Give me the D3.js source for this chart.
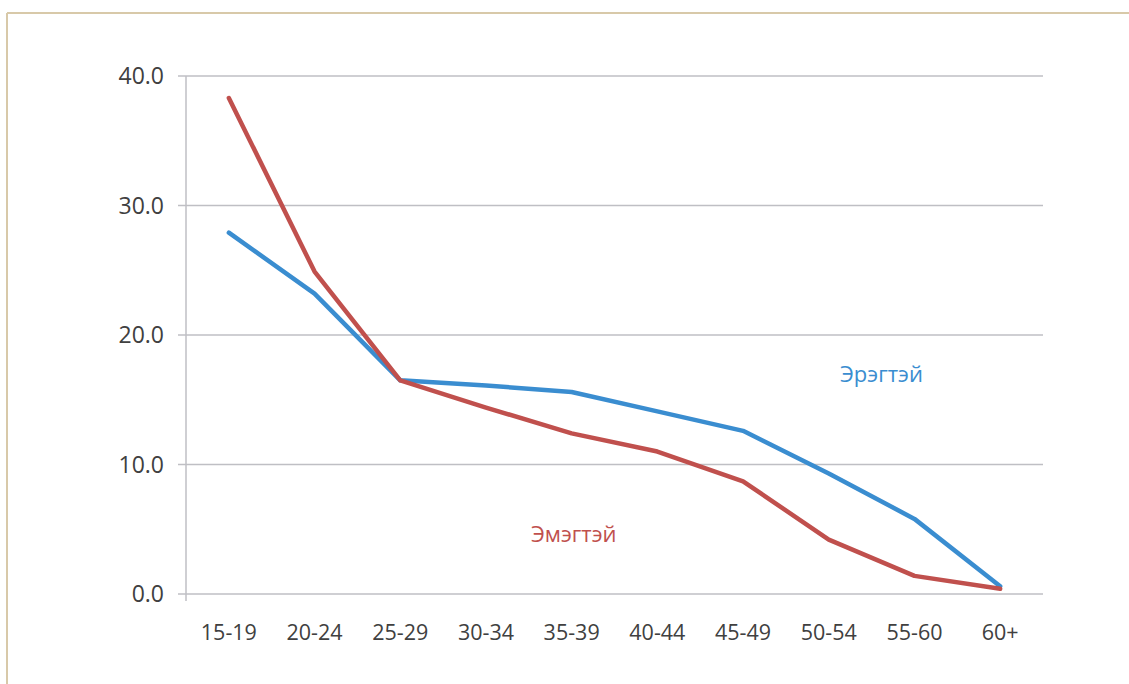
<!DOCTYPE html>
<html><head><meta charset="utf-8">
<script src="https://cdn.jsdelivr.net/npm/d3@7"></script>
<style>body{margin:0;background:#fff}svg{display:block}</style>
</head><body><svg id="c" width="1129" height="684"></svg>
<script>
const categories = ["15-19","20-24","25-29","30-34","35-39","40-44","45-49","50-54","55-60","60+"];
const male = [27.9, 23.2, 16.5, 16.1, 15.6, 14.1, 12.6, 9.3, 5.8, 0.6];
const female = [38.3, 24.9, 16.5, 14.4, 12.4, 11.0, 8.7, 4.2, 1.4, 0.4];
const yTicks = [0, 10, 20, 30, 40];
const seriesNames = ["Эрэгтэй", "Эмэгтэй"];

const svg = d3.select("#c");
const font = "'Open Sans', sans-serif";
// frame
svg.append("line").attr("x1",7).attr("x2",1129).attr("y1",13).attr("y2",13).attr("stroke","#d8c9a9").attr("stroke-width",2);
svg.append("line").attr("x1",7).attr("x2",7).attr("y1",13).attr("y2",684).attr("stroke","#d8c9a9").attr("stroke-width",2);

const L=186, R=1043, T=76, B=594;
const x = d3.scaleBand().domain(categories).range([L,R]);
const y = d3.scaleLinear().domain([0,40]).range([B,T]);

// gridlines
svg.append("g").selectAll("line").data(yTicks).join("line")
  .attr("x1",178).attr("x2",R).attr("y1",d=>y(d)).attr("y2",d=>y(d))
  .attr("stroke","#bfbfc4").attr("stroke-width",1.5);
svg.append("line").attr("x1",L).attr("x2",L).attr("y1",T).attr("y2",B+7).attr("stroke","#bfbfc4").attr("stroke-width",1.5);

svg.append("g").selectAll("text").data(yTicks).join("text")
  .attr("x",164).attr("y",d=>y(d)).attr("dy","0.35em").attr("text-anchor","end")
  .attr("font-family",font).attr("font-size",23).attr("fill","#404040")
  .text(d=>d3.format(".1f")(d));

svg.append("g").selectAll("text").data(categories).join("text")
  .attr("x",d=>x(d)+x.bandwidth()/2).attr("y",640).attr("text-anchor","middle")
  .attr("font-family",font).attr("font-size",21.5).attr("fill","#404040")
  .text(d=>d);

const line = d3.line().x((d,i)=>x(categories[i])+x.bandwidth()/2).y(d=>y(d));
svg.append("path").datum(male).attr("d",line).attr("fill","none").attr("stroke","#3a8dd0").attr("stroke-width",4.5).attr("stroke-linecap","round").attr("stroke-linejoin","round");
svg.append("path").datum(female).attr("d",line).attr("fill","none").attr("stroke","#c0504d").attr("stroke-width",4.5).attr("stroke-linecap","round").attr("stroke-linejoin","round");

svg.append("text").attr("x",840).attr("y",382).attr("font-family",font).attr("font-size",22).attr("fill","#3a8dd0").text(seriesNames[0]);
svg.append("text").attr("x",531).attr("y",542).attr("font-family",font).attr("font-size",22).attr("fill","#c0504d").text(seriesNames[1]);
</script></body></html>
